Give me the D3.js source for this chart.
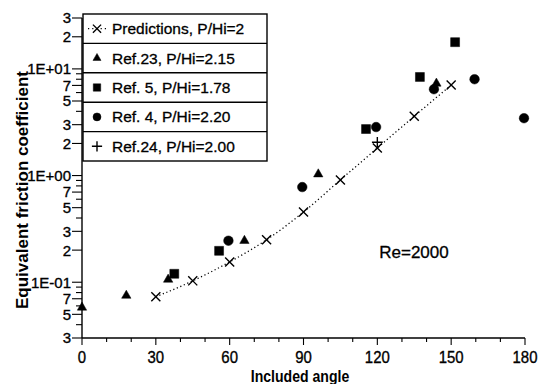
<!DOCTYPE html>
<html lang="en">

<head>
    <meta charset="UTF-8">
    <title>Equivalent friction coefficient</title>
    <style>
        body { margin: 0; background: #fff; }
        text { font-family: "Liberation Sans", Arial, sans-serif; fill: #000; }
    </style>
</head>

<body>
    <script src="https://d3js.org/d3.v7.min.js"></script>
    <script>

        const width = 538;
        const height = 384;

        //data
        const predAngle = [30, 45, 60, 75, 90, 105, 120, 135, 150];
        const predValue = [0.073, 0.103, 0.155, 0.25, 0.455, 0.91, 1.81, 3.6, 7.05];

        const ref23Angle = [0, 18, 35, 66, 96, 144];
        const ref23Value = [0.058, 0.075, 0.106, 0.245, 1.03, 7.3];

        const ref5Angle = [37.5, 55.7, 115.4, 137.3, 151.6];
        const ref5Value = [0.12, 0.197, 2.73, 8.4, 17.8];

        const ref4Angle = [59.5, 89.5, 119.5, 143, 159.5, 179.6];
        const ref4Value = [0.245, 0.78, 2.85, 6.45, 8.0, 3.45];

        const ref24Angle = [120];
        const ref24Value = [2.05];

        const legendLabels = ["Predictions, P/Hi=2", "Ref.23, P/Hi=2.15", "Ref. 5, P/Hi=1.78", "Ref. 4, P/Hi=2.20", "Ref.24, P/Hi=2.00"];

        const xTicks = [0, 30, 60, 90, 120, 150, 180];
        const xMinorTicks = d3.range(0, 181, 10);
        const yDecades = [0.01, 0.1, 1, 10];
        const yLabelled = [1, 2, 3, 5, 7];

        //scales
        const x = d3.scaleLinear().domain([0, 180]).range([82, 525]);
        const y = d3.scaleLog().domain([0.03, 30]).range([338, 18]);

        const svg = d3.select("body").append("svg")
            .attr("width", width)
            .attr("height", height);

        // y ticks
        const yTicks = [];
        yDecades.forEach(d => d3.range(1, 10).forEach(m => {
            const v = +(d * m).toPrecision(3);
            if (v >= 0.03 - 1e-9 && v <= 30 + 1e-9) yTicks.push({ v: v, m: m, d: d });
        }));
        const expLabel = d => {
            const e = Math.round(Math.log10(d));
            return "1E" + (e < 0 ? "-" : "+") + String(Math.abs(e)).padStart(2, "0");
        };

        const gy = svg.append("g");
        gy.append("line")
            .attr("x1", x(0)).attr("x2", x(0))
            .attr("y1", y(30)).attr("y2", y(0.03))
            .attr("stroke", "#000").attr("stroke-width", 1.4);
        gy.selectAll(".yt").data(yTicks).join("line")
            .attr("x1", x(0))
            .attr("x2", d => x(0) - (yLabelled.includes(d.m) ? 10 : 6))
            .attr("y1", d => y(d.v)).attr("y2", d => y(d.v))
            .attr("stroke", "#000").attr("stroke-width", 1.1);
        gy.selectAll("text").data(yTicks.filter(d => yLabelled.includes(d.m))).join("text")
            .attr("x", x(0) - 11)
            .attr("y", d => y(d.v))
            .attr("dy", "0.36em")
            .attr("text-anchor", "end")
            .attr("font-size", 15)
            .attr("stroke", "#000").attr("stroke-width", 0.35)
            .text(d => d.m === 1 ? expLabel(d.v) : String(d.m));

        // x axis
        const gx = svg.append("g");
        gx.append("line")
            .attr("x1", x(0)).attr("x2", x(180))
            .attr("y1", y(0.03)).attr("y2", y(0.03))
            .attr("stroke", "#000").attr("stroke-width", 1.4);
        gx.selectAll(".xt").data(xMinorTicks).join("line")
            .attr("x1", d => x(d)).attr("x2", d => x(d))
            .attr("y1", y(0.03))
            .attr("y2", d => y(0.03) + (d % 30 === 0 ? 7 : 4))
            .attr("stroke", "#000").attr("stroke-width", 1.1);
        gx.selectAll("text").data(xTicks).join("text")
            .attr("transform", d => `translate(${x(d)},363) scale(0.88,1)`)
            .attr("text-anchor", "middle")
            .attr("font-size", 17)
            .attr("stroke", "#000").attr("stroke-width", 0.35)
            .text(d => d);

        // axis titles
        svg.append("text")
            .attr("transform", "translate(28,190) rotate(-90)")
            .attr("text-anchor", "middle")
            .attr("font-size", 17)
            .attr("font-weight", "bold")
            .text("Equivalent friction coefficient");
        svg.append("text")
            .attr("transform", "translate(300,382) scale(0.88,1)")
            .attr("text-anchor", "middle")
            .attr("font-size", 16)
            .attr("font-weight", "bold")
            .text("Included angle");

        svg.append("text")
            .attr("x", 414).attr("y", 258)
            .attr("text-anchor", "middle")
            .attr("font-size", 17)
            .attr("stroke", "#000").attr("stroke-width", 0.3)
            .text("Re=2000");

        // predictions curve
        const pred = predAngle.map((a, i) => [a, predValue[i]]);
        svg.append("path")
            .datum(pred)
            .attr("fill", "none")
            .attr("stroke", "#000")
            .attr("stroke-width", 1.3)
            .attr("stroke-dasharray", "1.2,2.6")
            .attr("d", d3.line().x(d => x(d[0])).y(d => y(d[1])).curve(d3.curveMonotoneX));

        const sym = {
            times: d3.symbol().type(d3.symbolTimes).size(55),
            tri: d3.symbol().type(d3.symbolTriangle).size(38),
            square: d3.symbol().type(d3.symbolSquare).size(80),
            circle: d3.symbol().type(d3.symbolCircle).size(72),
            plus: d3.symbol().type(d3.symbolPlus).size(40)
        };

        const series = [
            { a: ref23Angle, v: ref23Value, s: sym.tri, fill: true },
            { a: ref5Angle, v: ref5Value, s: sym.square, fill: true },
            { a: ref4Angle, v: ref4Value, s: sym.circle, fill: true },
            { a: predAngle, v: predValue, s: sym.times, fill: false },
            { a: ref24Angle, v: ref24Value, s: sym.plus, fill: false }
        ];

        series.forEach(sr => {
            svg.append("g").selectAll("path")
                .data(sr.a.map((a, i) => [a, sr.v[i]]))
                .join("path")
                .attr("transform", d => `translate(${x(d[0])},${y(d[1])})`)
                .attr("d", sr.s)
                .attr("fill", sr.fill ? "#000" : "none")
                .attr("stroke", "#000")
                .attr("stroke-width", sr.fill ? 0.5 : 1.4);
        });

        // legend
        const lx = 83, ly = 14, lw = 184, rowH = 29.4;
        const legend = svg.append("g");
        legend.append("rect")
            .attr("x", lx).attr("y", ly)
            .attr("width", lw).attr("height", rowH * legendLabels.length)
            .attr("fill", "#fff")
            .attr("stroke", "#000").attr("stroke-width", 1.4);
        legend.selectAll(".sep").data(d3.range(1, legendLabels.length)).join("line")
            .attr("x1", lx).attr("x2", lx + lw)
            .attr("y1", i => ly + i * rowH).attr("y2", i => ly + i * rowH)
            .attr("stroke", "#000").attr("stroke-width", 1.4);

        const legSym = [
            d3.symbol().type(d3.symbolTimes).size(45),
            d3.symbol().type(d3.symbolTriangle).size(28),
            d3.symbol().type(d3.symbolSquare).size(55),
            d3.symbol().type(d3.symbolCircle).size(50),
            d3.symbol().type(d3.symbolPlus).size(36)
        ];
        const legFilled = [false, true, true, true, false];

        legend.append("line")
            .attr("x1", lx + 5).attr("x2", lx + 23)
            .attr("y1", ly + rowH / 2).attr("y2", ly + rowH / 2)
            .attr("stroke", "#000").attr("stroke-width", 1.3)
            .attr("stroke-dasharray", "1.2,3");

        legend.selectAll(".sym").data(legendLabels).join("path")
            .attr("transform", (d, i) => `translate(${lx + 14},${ly + rowH * i + rowH / 2})`)
            .attr("d", (d, i) => legSym[i]())
            .attr("fill", (d, i) => legFilled[i] ? "#000" : "none")
            .attr("stroke", "#000")
            .attr("stroke-width", (d, i) => legFilled[i] ? 0.5 : 1.4);

        legend.selectAll("text").data(legendLabels).join("text")
            .attr("x", lx + 29)
            .attr("y", (d, i) => ly + rowH * i + rowH / 2)
            .attr("dy", "0.36em")
            .attr("font-size", 15.5)
            .attr("stroke", "#000").attr("stroke-width", 0.3)
            .text(d => d);

    </script>
</body>

</html>
